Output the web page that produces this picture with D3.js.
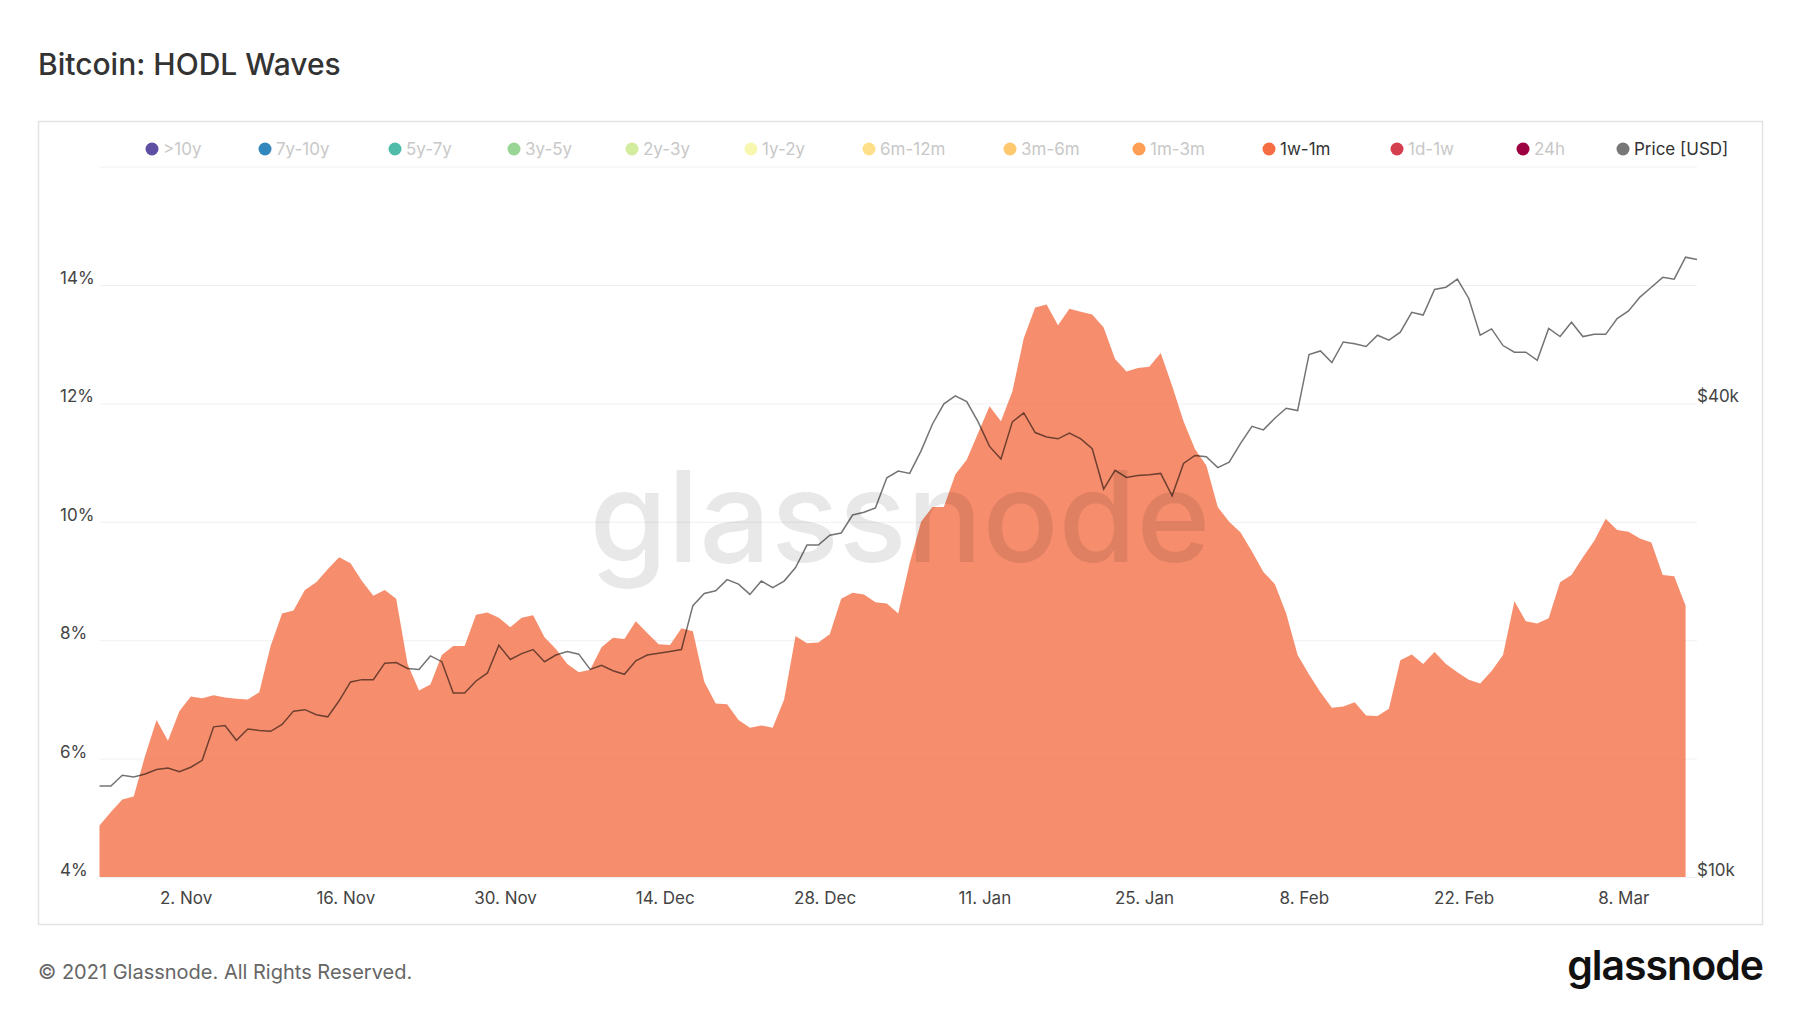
<!DOCTYPE html>
<html>
<head>
<meta charset="utf-8">
<script src="https://cdn.jsdelivr.net/npm/d3@7"></script>
<style>
  body { margin: 0; background: #fff; font-family: Inter, "Noto Sans", sans-serif; }
</style>
</head>
<body>
<div id="chart"></div>
<script>
// 1w-1m share of supply (%), one value per day
var shareValues = [4.87, 5.1, 5.31, 5.36, 6.05, 6.65, 6.3, 6.8, 7.05, 7.02,
  7.07, 7.03, 7.01, 7.0, 7.12, 7.9, 8.45, 8.5, 8.85, 8.98,
  9.2, 9.4, 9.3, 9.0, 8.75, 8.85, 8.7, 7.6, 7.15, 7.25,
  7.75, 7.9, 7.9, 8.43, 8.47, 8.38, 8.22, 8.38, 8.42, 8.05,
  7.85, 7.6, 7.46, 7.5, 7.88, 8.04, 8.02, 8.32, 8.12, 7.93,
  7.92, 8.2, 8.15, 7.3, 6.93, 6.92, 6.65, 6.52, 6.56, 6.52,
  7.0, 8.07, 7.95, 7.96, 8.1, 8.7, 8.8, 8.77, 8.64, 8.62,
  8.45, 9.3, 10.0, 10.25, 10.25, 10.8, 11.05, 11.5, 11.95, 11.7,
  12.2, 13.1, 13.62, 13.67, 13.32, 13.6, 13.55, 13.5, 13.28, 12.75,
  12.54, 12.6, 12.62, 12.85, 12.3, 11.7, 11.23, 10.95, 10.25, 10.0,
  9.82, 9.5, 9.15, 8.95, 8.45, 7.75, 7.42, 7.12, 6.86, 6.88,
  6.95, 6.73, 6.72, 6.84, 7.66, 7.76, 7.6, 7.8, 7.6, 7.46,
  7.33, 7.27, 7.48, 7.75, 8.66, 8.32, 8.28, 8.37, 8.98, 9.1,
  9.4, 9.68, 10.05, 9.86, 9.83, 9.72, 9.65, 9.1, 9.08, 8.58];

// BTC price (USD), one value per day
var priceValues = [13050, 13050, 13470, 13400, 13520, 13700, 13760, 13610, 13790, 14070,
  15520, 15580, 14920, 15420, 15360, 15320, 15630, 16250, 16320, 16080,
  15980, 16750, 17700, 17820, 17820, 18700, 18730, 18410, 18360, 19100,
  18780, 17130, 17130, 17750, 18170, 19710, 18900, 19230, 19460, 18780,
  19150, 19350, 19200, 18360, 18580, 18290, 18100, 18830, 19150, 19250,
  19350, 19460, 22130, 22930, 23110, 23880, 23570, 22870, 23780, 23320,
  23780, 24740, 26420, 26420, 27190, 27370, 28850, 29080, 29460, 32170,
  32810, 32590, 34810, 37660, 39950, 40900, 40210, 37900, 35270, 33990,
  37900, 38910, 36730, 36250, 36060, 36680, 36060, 35030, 31130, 32890,
  32210, 32380, 32470, 32590, 30520, 33550, 34350, 34220, 33150, 33680,
  35590, 37410, 37020, 38300, 39430, 39170, 46160, 46640, 45080, 47880,
  47630, 47260, 48840, 48140, 49280, 52220, 51810, 55830, 56200, 57550,
  54380, 48840, 49740, 47380, 46460, 46460, 45370, 49810, 48640, 50730,
  48640, 48960, 48960, 51270, 52430, 54600, 56200, 57850, 57550, 61370, 60970];

var legendLabels = [">10y", "7y-10y", "5y-7y", "3y-5y", "2y-3y", "1y-2y", "6m-12m",
  "3m-6m", "1m-3m", "1w-1m", "1d-1w", "24h", "Price [USD]"];
var legendColors = ["#5e4fa2", "#3288bd", "#4fbca9", "#99d594", "#d1ec9c", "#f7f7b0", "#fee08b",
  "#fdc86e", "#fd9e54", "#f46d43", "#d53e4f", "#9e0142", "#777777"];
var legendActive = ["1w-1m", "Price [USD]"];

var leftTicks = [4, 6, 8, 10, 12, 14, 16];
var rightTicks = [10000, 40000];
var xTickDates = ["2020-11-02", "2020-11-16", "2020-11-30", "2020-12-14", "2020-12-28",
  "2021-01-11", "2021-01-25", "2021-02-08", "2021-02-22", "2021-03-08"];

var W = 1800, H = 1013;
var svg = d3.select("#chart").append("svg").attr("width", W).attr("height", H);

var start = new Date(2020, 9, 25, 11);
function dayDate(i) { return d3.timeHour.offset(start, i * 24); }

var x = d3.scaleTime().domain([start, dayDate(140)]).range([99.5, 1697]);
var y = d3.scaleLinear().domain([4, 16]).range([877, 166.6]);
var yPrice = d3.scaleLog().domain([10000, 80000]).range([877, 166.6]);

// title
svg.append("text").attr("x", 38).attr("y", 75)
  .style("font-size", "30px").style("font-weight", 500).style("fill", "#333")
  .text("Bitcoin: HODL Waves");

// frame
svg.append("rect").attr("x", 38.5).attr("y", 121.5).attr("width", 1724).attr("height", 803)
  .style("fill", "none").style("stroke", "#e3e3e3").style("stroke-width", "1.5px");

// grid
svg.append("g").selectAll("line").data(leftTicks).join("line")
  .attr("x1", 100).attr("x2", 1697)
  .attr("y1", function(d) { return y(d) + 0.5; }).attr("y2", function(d) { return y(d) + 0.5; })
  .style("stroke", "#f0f0f0");

// left labels
svg.append("g").selectAll("text").data(leftTicks.filter(function(d) { return d < 16; })).join("text")
  .attr("x", 60).attr("y", function(d) { return y(d) - 1; })
  .style("font-size", "17px").style("fill", "#444")
  .text(function(d) { return d + "%"; });

// right labels
svg.append("g").selectAll("text").data(rightTicks).join("text")
  .attr("x", 1697).attr("y", function(d) { return yPrice(d) - 1; })
  .style("font-size", "17px").style("fill", "#444")
  .text(function(d) { return "$" + d / 1000 + "k"; });

// x labels
var xAxis = d3.axisBottom(x)
  .tickValues(xTickDates.map(function(s) { return d3.timeParse("%Y-%m-%d")(s); }))
  .tickFormat(d3.timeFormat("%-d. %b")).tickSize(0).tickPadding(15);
var gx = svg.append("g").attr("transform", "translate(0,877)").call(xAxis);
gx.select(".domain").remove();
gx.selectAll("text").style("font-size", "17px").style("fill", "#444").style("font-family", "Inter, sans-serif");

// area
var area = d3.area()
  .x(function(d, i) { return x(dayDate(i)); })
  .y0(877).y1(function(d) { return y(d); });
svg.append("path").datum(shareValues).attr("d", area)
  .style("fill", "#f46d43").style("fill-opacity", 0.78);

// watermark
svg.append("text").attr("x", 900).attr("y", 562).attr("text-anchor", "middle")
  .style("font-size", "126px").style("font-weight", 500).style("fill", "#000").style("fill-opacity", 0.09)
  .text("glassnode");

// price line
var line = d3.line()
  .x(function(d, i) { return x(dayDate(i)); })
  .y(function(d) { return yPrice(d); });
svg.append("path").datum(priceValues).attr("d", line)
  .style("fill", "none").style("stroke", "#000").style("stroke-opacity", 0.55).style("stroke-width", "1.5px");

// legend
var legendX = [152, 265, 395, 514, 632, 751, 869, 1010, 1139, 1269, 1397, 1523, 1623];
var lg = svg.append("g").selectAll("g").data(legendLabels).join("g")
  .attr("transform", function(d, i) { return "translate(" + legendX[i] + ",149)"; });
lg.append("circle").attr("r", 6.5).style("fill", function(d, i) { return legendColors[i]; });
lg.append("text").attr("x", 11).attr("y", 6)
  .style("font-size", "17px")
  .style("fill", function(d) { return legendActive.indexOf(d) >= 0 ? "#333" : "#c8c8c8"; })
  .text(function(d) { return d; });

// footer
svg.append("text").attr("x", 38).attr("y", 979)
  .style("font-size", "20px").style("fill", "#666")
  .text("© 2021 Glassnode. All Rights Reserved.");
svg.append("text").attr("x", 1763).attr("y", 980).attr("text-anchor", "end")
  .style("font-size", "41px").style("font-weight", 600).style("fill", "#111").style("letter-spacing", "-1px")
  .text("glassnode");
</script>
</body>
</html>
